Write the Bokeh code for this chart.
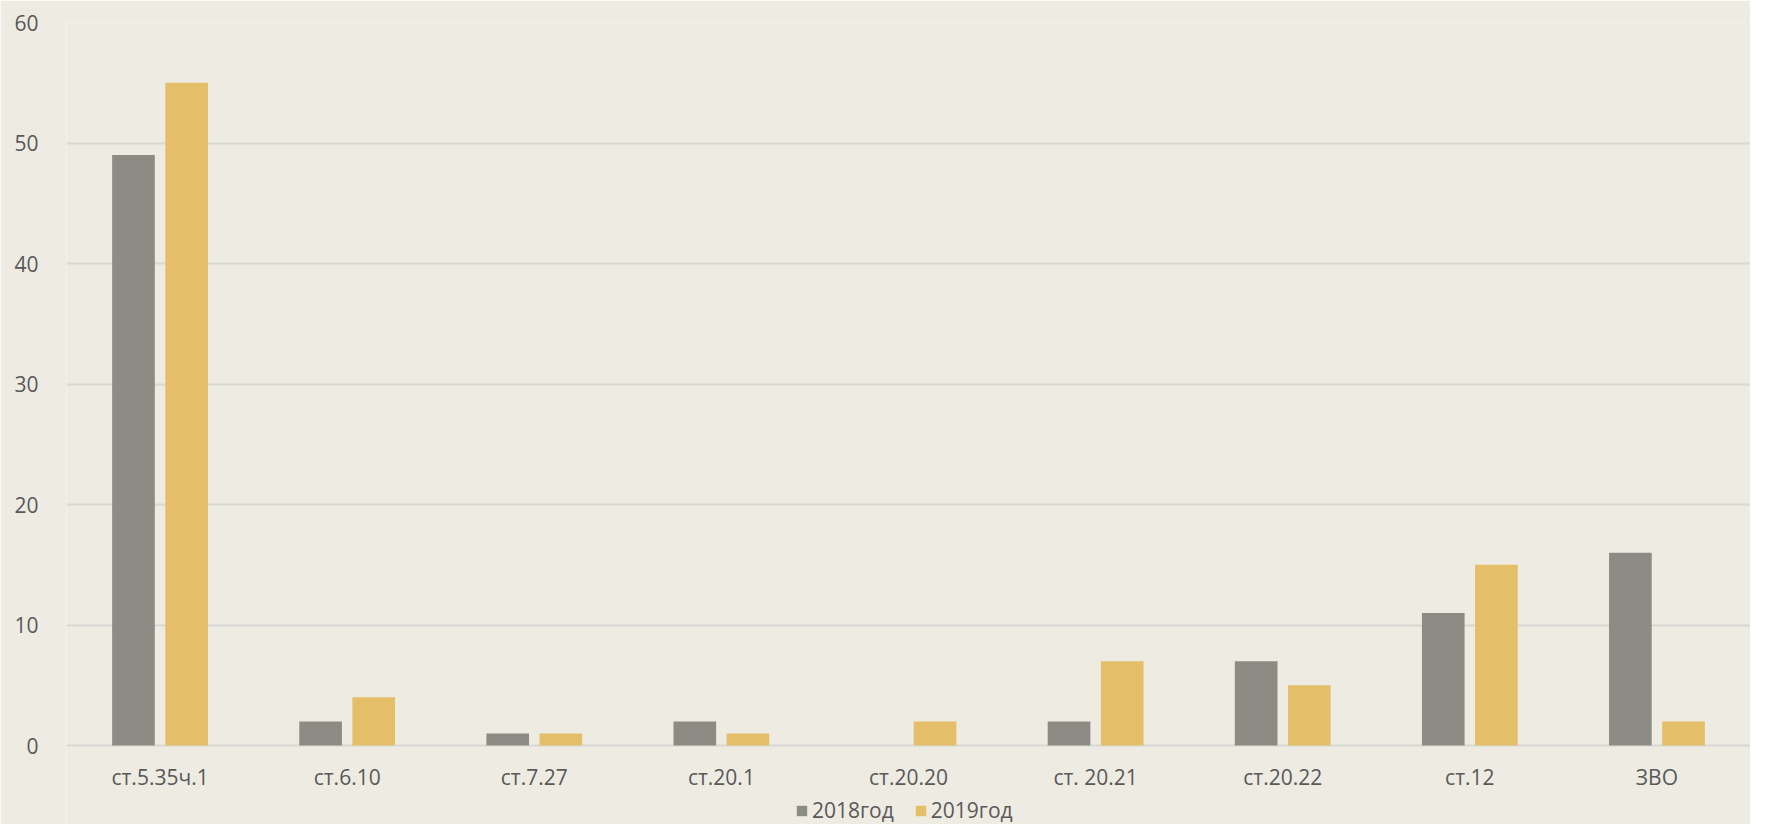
from bokeh.plotting import figure
from bokeh.models import (FactorRange, Range1d, Legend, LegendItem, ColumnDataSource,
                          FixedTicker)
from bokeh.transform import dodge
from bokeh.core.properties import value
from bokeh.embed import file_html
from bokeh.resources import INLINE

categories = ["ст.5.35ч.1", "ст.6.10", "ст.7.27", "ст.20.1", "ст.20.20",
              "ст. 20.21", "ст.20.22", "ст.12", "ЗВО"]
values_2018 = [49, 2, 1, 2, 0, 2, 7, 11, 16]
values_2019 = [55, 4, 1, 1, 2, 7, 5, 15, 2]
series_names = ["2018год", "2019год"]
y_ticks = [0, 10, 20, 30, 40, 50, 60]

BG = "#EEEBE3"
GRAY = "#8C8C85"
YELLOW = "#E4BE68"
TXT = "#595959"
FONT = "Open Sans"

W, H = 1750, 824
TOP, LEFT = 22, 66
ZERO_Y = 745          # pixel row of the value 0 inside the figure
px_per_unit = (ZERO_Y - TOP) / y_ticks[-1]
y_min = -(H - ZERO_Y) / px_per_unit

src = ColumnDataSource(dict(cat=categories, v18=values_2018, v19=values_2019,
                            base=[0] * len(categories)))

p = figure(x_range=FactorRange(*categories, range_padding=0),
           y_range=Range1d(y_min, y_ticks[-1]),
           width=W, height=H, output_backend="svg", toolbar_location=None,
           x_axis_location=None,
           background_fill_color=BG, border_fill_color=BG, outline_line_color=None,
           min_border_left=LEFT, min_border_right=0, min_border_top=TOP, min_border_bottom=0)

r1 = p.vbar(x=dodge("cat", -0.142, range=p.x_range), top="v18", width=0.228, source=src,
            fill_color=GRAY, line_color=None)
r2 = p.vbar(x=dodge("cat", 0.142, range=p.x_range), top="v19", width=0.228, source=src,
            fill_color=YELLOW, line_color=None)

# category labels under the baseline
p.text(x="cat", y="base", text="cat", source=src, y_offset=31,
       text_align="center", text_baseline="middle",
       text_font=value(FONT), text_font_size="21px", text_color=TXT)

p.xgrid.grid_line_color = None
p.ygrid.grid_line_color = "#D8D8D4"
p.ygrid.grid_line_width = 2
p.yaxis.ticker = FixedTicker(ticks=y_ticks)
p.yaxis.axis_line_color = None
p.yaxis.major_tick_line_color = None
p.yaxis.minor_tick_line_color = None
p.yaxis.major_label_text_color = TXT
p.yaxis.major_label_text_font = FONT
p.yaxis.major_label_text_font_size = "21px"
p.yaxis.major_label_standoff = 22

legend = Legend(items=[LegendItem(label=series_names[0], renderers=[r1]),
                       LegendItem(label=series_names[1], renderers=[r2])],
                orientation="horizontal", location=(729, 0),
                background_fill_alpha=0, border_line_color=None,
                label_text_font=FONT, label_text_font_size="21px", label_text_color=TXT,
                glyph_width=13, glyph_height=13, label_standoff=4, spacing=20,
                padding=0, margin=0)
p.add_layout(legend, "center")

open("out.html", "w").write(file_html(p, INLINE))
